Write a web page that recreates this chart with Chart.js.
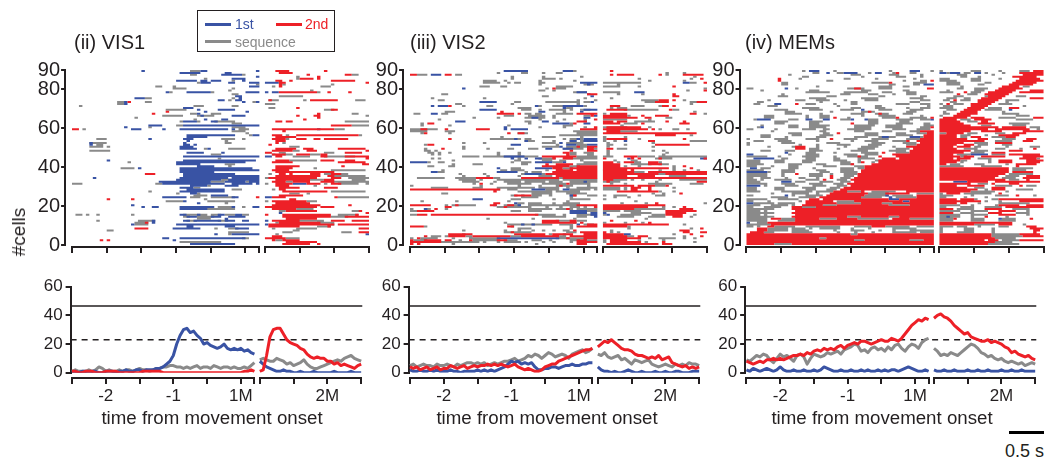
<!DOCTYPE html>
<html>
<head>
<meta charset="utf-8">
<script src="https://cdn.jsdelivr.net/npm/chart.js@4.4.0/dist/chart.umd.min.js"></script>
<style>
body { margin:0; background:#fff; font-family:"Liberation Sans", Arial, Helvetica, sans-serif; }
#wrap { position:relative; width:1047px; height:457px; overflow:hidden; background:#fff; }
canvas { position:absolute; }
.txt { position:absolute; white-space:nowrap; color:#231f20; }
.bar { position:absolute; }
</style>
</head>
<body>
<div id="wrap">
  <canvas id="r1"></canvas><canvas id="r2"></canvas><canvas id="r3"></canvas>
  <canvas id="t1"></canvas><canvas id="t2"></canvas><canvas id="t3"></canvas>

  <div class="txt" style="left:74px;top:30px;font-size:20px;line-height:24px">(ii) VIS1</div>
  <div class="txt" style="left:410px;top:30px;font-size:20px;line-height:24px">(iii) VIS2</div>
  <div class="txt" style="left:745px;top:30px;font-size:20px;line-height:24px">(iv) MEMs</div>

  <!-- legend -->
  <div class="bar" style="left:197px;top:10px;width:136px;height:40px;border:1px solid #231f20"></div>
  <div class="bar" style="left:205px;top:22.5px;width:26px;height:3px;background:#3953a4"></div>
  <div class="txt" style="left:235px;top:16px;font-size:14px;line-height:16px;color:#3953a4">1st</div>
  <div class="bar" style="left:276px;top:22.5px;width:26px;height:3px;background:#ed2027"></div>
  <div class="txt" style="left:305px;top:16px;font-size:14px;line-height:16px;color:#ed2027">2nd</div>
  <div class="bar" style="left:205px;top:40px;width:26px;height:3px;background:#8a8a8a"></div>
  <div class="txt" style="left:235px;top:33.5px;font-size:14px;line-height:16px;color:#8a8a8a">sequence</div>

  <div class="txt" style="left:19px;top:232px;font-size:19px;line-height:22px;transform:translate(-50%,-50%) rotate(-90deg)">#cells</div>

  <div class="txt" style="left:212px;top:406px;font-size:18.7px;line-height:24px;transform:translateX(-50%)">time from movement onset</div>
  <div class="txt" style="left:547px;top:406px;font-size:18.7px;line-height:24px;transform:translateX(-50%)">time from movement onset</div>
  <div class="txt" style="left:882px;top:406px;font-size:18.7px;line-height:24px;transform:translateX(-50%)">time from movement onset</div>

  <div class="bar" style="left:1009px;top:430.5px;width:35px;height:3px;background:#000"></div>
  <div class="txt" style="left:1005px;top:440px;font-size:18px;line-height:22px">0.5 s</div>
</div>

<script>
// raster rows, top row (cell 90) first. token = colour + bin range.
// bins before '|' : 0.05 s from -2.5 s (1M = 0); after '|' : 0.05 s from the 2nd block start
var vis1Rows = [
"b20 g34-36 b37-38 b53|r3-6 r17",
"b31-36 b44-45|r4-7",
"g34-35 b43-48 g49|r12 r23-24 g25-26",
"b53|g9 r15",
"g38 b46-49|g9 r10-13 r15",
"b30-35 b37-38 b40-42 g46 b49|r3-4 r7 r19-25",
"g36 b37-39 b45-46 b51-53|b0-3 r4-5 r29",
"g53|r4 g5 g19",
"g24-25 g29 b51-53|g2 r4 g16-18",
"g29-32 g46|",
"g45|g13",
"b27 g28 b33-39 g40 b50-53|b0 b2-3 r4-5 r6-14 g15 r18 r24",
"g46-47|",
"b47-48|g4-10",
"b18-20 g21-22 g46 b48|",
"b42-43 g45 b47-48|g1 r1 g2-3 g11 r13-20 g26-28",
"g13-14 b15 r16 g21-22 b49 g52 b53|",
"g13-14 b15|g0-2",
"g2 g35-37 g46-47|",
"b32-34|g1-2 r9",
"g27-32 b36 b42-46|g17-19 r19-20",
"r27 b38 b50|",
"r23 g34-35 b36 g40-42|r15 g25-26",
"g26-31 g36-40 b37 b46-49|r9 r14-15 g29",
"g18|r15",
"g35 b38 b43-44|r11",
"g31 b32-35 g36 b40-41 g41-43 g44-46|r3-4 r6-7 g23-29",
"g46-48|",
"b22-25 g30-31 b32-53|r19-24 g25-29",
"b15 g22 g46-49|",
"r0-1 g3 b17-19 b26 b31-44 b46 g48-50|r2-16 b15 r17-19 g20-22",
"g46-49|r5",
"g50|",
"b33-41 b42-46 g51 b52-53|r2-4 g6 r9-17 r17-26 g27",
"b33-36 b37-38|r3-8 b5-6",
"g7-9 b22 b32-34 g43-46 g49|r2 r3-5 g6 r9-11 r14-15 r17-22 r23",
"b33 g44|r3-5",
"g5-9 b5 b32 g44-45|r3 g5",
"b5 g7-8 b32-33 b35|r1",
"g5-8 g10 b31-34|g7-9",
"b31-35 g38 b39 g45-46 g47-49|r3-8 r11-13 r21-28",
"g5-9 g10|r2-7 g8-9 r12-14 r29",
"b33-37 b43|r0-1 g4-5 g17-19 r23-27",
"g40-42|g2 r2-4 r5 g5-7 r9-12 g13-15 r16-17",
"b32-53|b0-1 r3-4 g8-12 r16-17 g17-25 r23-29",
"g42|r29",
"b10 b32-39 b40-52|r3-6 g7-14 r16-19 r23-25",
"g16 b30-33 b34-49|r2-7 r21-28",
"b30-36 g44-46|r28-29",
"b36-40 g45|r3-9 r22",
"g14-17 b19 b31-51 g38|r3-7 g14",
"b31-35 b36-53|r2 r3-6 g19-28",
"b31-40|r3-19",
"r21-23 b32-46|g1 r4-5 r7 r13-15 g17-19 r19-21 g21-23",
"b32-53|r3-15 r18-19 g19-28",
"b6 b31-41 g41 b42-44 b46-53|g0-1 r1-3 r3-14 r19-21 g24-29",
"b30-42 g43-45 b45-53|r3-12 g13-16 r17-19 g25-28",
"b25-32 b33-39 g40-43 b44-49 g50 b51-53|r2-5 g6-7 r8-12 r16-19 g19-29",
"g0-2 g24-25 b26-43 b46-51 b53|g0 r3-7 b8-11 r12-15 g17 r19-21 g21-26 g29",
"b34-38 g39 b44-47|r3-6 g14",
"b31-34 g35-36|r4-9 r17-19 r20",
"b33-42 b43 g46-48|g2 r4-5",
"g22 b31-34 b35-40 b40-43|r5-17 g19-28",
"g30 b34-35 g36|g7-9 g12",
"g35-38 b40-44|r4-10",
"b26-32 g34-36 g40-42 g43-46 b46-47 r53|b0-1 r2-5 r20 g21-29",
"r10 r17 g38|r7-8",
"g27-31 b32 g39-46|g0 r2-11 g12-14",
"b36 g44|r3-12",
"b17|r2-15 r24",
"b20 b23-24 b31-39 b40 g42-46 b46 g49 b52-53|r0-14 r16-19",
"b31-38 g38-46|r2-8 g9-13",
"|g4-5 r6-14 g25-27 r27",
"|b4 r29",
"g1-2 g4 g7 g17 b31-32 g32-36 b36 g37-38 g40-42 b42-43 g44-46 b47-48 g49-50|r0 r5-18 g21-26 r26",
"g32-33 b33-35 g36-40 b40-42 b45-49|r5-18 g19-23 r23-29",
"g36-39 b44|r6-14",
"g7 g19-23 b23 b32-33 g33-35 b35-42 g42-44 b44-46 b49-50|b0 r2-9 g9-16 r19-22 r25-29",
"g18-21 r21 b23|g3 r4-15 g15-19",
"b17 g18-21 b30-53|b0 r1-9 r10-19 g19 r21-29",
"b33-34 b44-46|r1-9 g15-18 r18",
"r18-21 b29-36 g41 g45-47 b47-50|g2 g9-14 r27-29",
"g10-11|g8-9",
"g45-50|g5-7 g22-24 r27-29",
"b41 g45 b46-53|g3 b29",
"|r2-4",
"b26 b27 b31-49 g49-50|r0-5 g6-9",
"r8 r10 b29|r2 g3-4 r5-9",
"g31-33 g34-42|r6-14",
"b34-46|r5-12 r15"
];

var vis2Rows = [
"b27-32 b33 b44-46 g47|r2",
"g25 g32-33 g38 g42-43|g18 g23",
"r0-1 g2-4 b6-7 b8 r10-11 g13-14|r2 r4-7 r8 r16 g18 r23-28",
"g29 g38 g49|g26",
"g29 g38-41 g43|g10 g25 r28",
"g21-24 g27 g37 g47|g13 g23",
"g21-25 g28 g30-31 g37-38 b49-53|g0-10 b23-24 g25-26 r29",
"g37 g50-52 b51|g4",
"g20-22 g26-27 g42-46|g0-4 g10 r20",
"b15 g39 r41 g42-44|g29",
"g37-38 g41|r29 g24",
"g47-50 b48-50|g0-4 b9-10 b11",
"g9-10 r51 b51 r52-53|g4 g11 r20",
"g38-39 b52|r20-21",
"g6 g21 g50|g2",
"g8-9 g48 g53|g11-15 r16-18 r20 g23",
"b20-24 g30-31 g39-43 g44-48 g50-51 b52|g12-14 r15-18 g25-29 r27-29",
"g13-14 g29 g48|g25",
"b6 b8-10 r11 g15 g22-23 g36-37 b36 g41-44 b44-49 g50|r2-4 g8-11 g16 r17-18 r20",
"g31-34 b44 g45-46|g2 g4-6",
"b20-24 g32-34 g37 g40-44 g46 g49-51 b50-53|r1-6 g6-15 r19 g20-21",
"g10-12 r26 b37-38 g44 b49|g26",
"g1-2 b6-7 g9-10 r25-29 r31 g33-34 g36-37 g42-46 r48 r49-53|g0 r2-6 r25-26 g29",
"g27-29 g34 g35-37 g38 g41 g50-51 r52 b53|r0-6 g7 r11 r15-16 r17-18",
"g18 g25 g33 g34-37 b35-36 g38 g41 b50-51|r0-7 r8-9 r12-13 g18-19",
"g8 g37 g44 g50 r53|g0-6 g13",
"b13-15 g33-34 b38-39 g42 r48-50 g50|r0-2 r4-6 g9-14 r18 r23",
"g3 r5-6 g34 b41-45 g46 r47 b50-51|r0-4 g6-9 r11 r22-24",
"g3 g11 g28 g44-46|g5",
"b27 g37 g44 g50 r53|g0-6 r1-10 g13",
"g0-3 r3-4 g4-7 r10 r19-22 b27 b29-33 r49-53|r0-5 r6-12 r14 g16 g20-21 g24",
"g0-4 g10-12 g47-53|r1-4 g2-8 g9",
"g3 r4 g11 r28 g31-33 r31-32 g48-53|r0-6 r7-9 r9-25 r26",
"g43-46 g47-53|r15-20 g25",
"g26 g38-41 g49|g0 g6",
"r11 b30 g23-29 g30-31 g33-34 g44 g46-49 b48 b50-53|g0 r1-6 g6 g10 r23",
"g33-35 b33 g41 g46-47 b46-47 g49-53 b50-53|g0 g3 b6 r13-14 g25-29",
"g15 g21 g38-41 b43 g45-49|g1 g14",
"g4 r5-6 b29-31 g42 b45-47 g48-50 b51-53|g1-2 g6 r15-24",
"g15 g38-42 b43 g45-50 r48 r51-53|g1 g14",
"g4 r9 g15 g22 g28-29 g34-36 b39-40 g44-49 b44-46 r51-52 g53|r1-2 g4-6",
"g4-5 g7 r46 r51-53|g1 g14 g17",
"g5-6 g8 g11 g25 g31 r44-45 g46-47 g50-52|g1 g18",
"g6 g8 g25 g31 r45 g46-47 g51-52|g1 g17",
"g15-19 g21-34 b27-32 g34-36 r38-44 r45-47 g48-53|g0-2 r6-9 g10-14 g16-29",
"g6 g8 b29 g31 b33 b36-37 g37-40 g41 r41 r44-46 g45-47 g48-53|r0 b7 r8 r10 g15-19 r16 b28-29 r29",
"g12 g30-31 g38-40 g43-44 g49|g3 g8-9",
"b0-4 g5 g8-9 g29 g32-34 b36-40 g41-43 b44 g50-53|r0-2 g4 r6-8 g9-10 r13-15 g16",
"g12 g18-20 g32-33 r39 r42-46 g48-50 g51-53|r0-4 g8-13 r13-16 g16-18",
"g5-6 g11-12 r38-42 r42-45 g46-48 r48-53|r0-4 g6 g10 g20 r23",
"b25 g29 g30-31 b36-40 r41 r42-43 g44-46 r46-53|r0-18 g20 r25",
"g9 g26-27 g29-32 g39 r42-46 r48-53|g0 r0-6 r8 g16 g20 g23 g27",
"b6-7 g8-9 b25-30 g33 g35-37 r41-46 r47-53|r0-8 g8-11 r13-18 r18-29 g25",
"g14 g21 g32-34 g38 b33-37 g40 r39-53|r0-7 r7-15 g15-18 r18-29",
"g15 g22 g31 g37-40 g45 r42-53|r0-6 r10-14 g19-23",
"g2-8 g9 g13-15 g16-19 r19-23 g24-25 r32-42 g43-44 r44-53|r0-16 g16 r17-29",
"g14-18 g20 g25-31 g32-37 g38-42 g44-50 g50-53|r0-2 g2-6 g8 g11 g16 g22-29",
"g15-19 g24 g27-31 g33-38 g40-43 g46-50 b50 g51-53|g0-4 r1 g15 r27-29",
"g18 r20 g23 g28-34 g38-44 r45 g46-50 g51|g2 g6 g13-19 g25-28",
"g0 g20 g31 g37 g42-46 r43 g51|r0-3 r4-8 r10-14 g15-17 r18",
"g6-10 g18-20 g25-30 g31-35 g37-42 g45 g48-53|g0-4 g6 r8-10 r13 g20",
"r0-1 r2-24 g25 r25 g28-30 b35-38 g39-42 b44-45 g46-50 g51 g53|g0-4 g6 r8-9 r13",
"r24 g31-36 g37-40 g42-47 g48|r4-15 g16 g20",
"g9-10 g35-40 g45-50|g14 g17 r22",
"g29-30 r30-31 r32-34 g32 g35-37 g40 g46-47 b46 r47 g51-53|g0 g3-6 g10 g15-17",
"g32-36 g46|g3 g7",
"b18-20 g29-31 g41 g46-51|g0",
"g3 g13 g28 g45|g9",
"r24-25 g31-32 b30 g34-37 g41 g44-48|g5 g12 r15 g29",
"r0-5 g10 g12-16 r13 g17-18 r23-24 b24 r28-29 g27-31 b31 g34-39 g38-43 g43-48 r48-53|r0-12 r12-17",
"r10 r11 g25-29 r27 g29-34 g39 g43 g46-48 g50 r53|r0-6 r6-10 r10-12 g17 g20 r23",
"g0 b4 g4-5 r7 g10 g34-40 g42-46 r45 g48-53|r0-8 g8-17 r22-25",
"g0-2 r2-5 r6 g29-31 g34-37 b46-50 g50-53|g0-4 g6-10 r18-20 r21-26",
"b46-50 b52-53|b0 g8-13 r18-23",
"g0-1 r2-4 r6-36 g36-40 g41 g44 g48-52 b52-53|g0 b1 g5-10 g14-17 r18-22 g26",
"g38-40 g41-44 g48-50 b53|g4-8 g13-17 r20-22 g25",
"g22 g35 g47|g12",
"r38-42 g42-46 r46-47 g48-50|r2 r9",
"g27 r38-47 g47 r49|g0 g6 g11 r13",
"g28-31 g31-38 b32 b35 g38-40 g43-46 b48 g50-52 r51-53|r0-6 r6-17 r18 g23",
"r0-1 r2-3 g4 r28-29 g29 g46 r48-51 r52-53|r0-6 g7",
"g31-34 g46|g7 g25 r28",
"g15 g27 g31 g35 g38 g41 g44 g45 r47|g2 r22-24",
"g27-31 g32-34 r29 g45-47 r49-53|r0 g2 g4 r23-24 r28-29",
"r11-12 g15 r13-17 r30-33 r34-38 g40 r41-46 g44 r50-53|r0-4 r5 b6-7 g20 r25",
"r4 g6-8 g10 r11-15 g16-17 r18-28 g29-31 r32-42 g43-44 r46-53|r0-6 g6-8 r10-12 g23 r28",
"g0 r2 g3-7 g12 g17-25 b25-42 g42-46 r45 g46-50 r50-53|r0-6 r6-10 g13 g16-20 g23 g26",
"r0 g1-4 r4-8 r10 r11 g14 r17 g18-25 r25-27 g27-30 g35-37 g40 g46-48 r48-50 g51-53|g0 r2-6 g10 g17",
"r0-1 r2-8 g8-19 g21 g25 g27-31 g33 g38 g41 g46 r48-53|g0 r2-10 g12 r17 g26",
"r0 r2 g12 g36 r48-50|r1-9 r10-15 r17-19"
];

var memRows = [
"g16 b18-20 g25 g41 b47-49 g53|g0 g9-11 g17 g23-25 r27-29",
"g19-20 b23 g26-27 b28-31 g35 b37-38 g42 r43 g47-48|b0-1 g2 b3-5 g7-8 b10-11 g13 g18 r23-29",
"g12 g30-32 g41-43 g50|g5-7 g15 r24-29",
"g16-17 g33 g43-45 g50|g6-7 g11 r21-27",
"r9 g15 g28-29 g37 g48|g0-2 g9-11 g17 r23-28",
"r9 g23-24 g45 g50-51 r53|g0-4 g9-11 r22-29",
"g10-11 g36-40 r41 g48-51|g2-5 g13-14 r21-27",
"g10-11 g41-42 g48-49 b51-53|g2-5 g11-12 r20-26",
"g20 g38-41 g45-46|g6 r18-22 g24-25",
"g0-1 b11 g14 g29-33 r31-32 g38-41 r52-53|g5-6 g10-13 r17-23",
"g4 g18-20 g33-35 g45-46|g2 g10-12 r16-21 r26-29",
"g17-23 g28-34 g39-41 g46-48|g0-3 r7 g9-11 r14-20 r23-29",
"g10 g27-29 g35-37 g42 g46-48|r5 g8-10 r13-19",
"g9-11 g23-25 g38-39 g50-51|g4-6 g13 r14-18 g22-24",
"g18-22 g33-37 g47-50|g2-4 g7-8 r12-17 r26-29",
"g6 g14-16 g20-23 g28 g34-37 g50-52|g1-2 r4 g6-8 r11-16 g19-22",
"g3-4 g21 g30-31 g47-49|g3-4 r11-15 g19",
"g2-3 b8-9 r14 g17-19 g25 g30-31 g43-46 g50-52|g0 r2 g4-6 r9-14 g17-20",
"g6-8 g26 g37-38 g52|g1-3 r9-13 g24",
"g16-20 g30-32 g37-39 g46 g50-52|g0-3 r8-12 g14-17 r20-22",
"g8-11 g18-21 g27-30 b33 g38-41 g47-50|g2-4 r7-11 g13-17 b20",
"g11-13 g24 g33-36 r35 g46-48|g1 r6-10 g18",
"g11-15 g21 g30-33 g37-40 r38 g45-47|g1-2 r5-10 g18-22",
"g5-7 g17 g21-23 g33 g38-42 g50|g0 r4-8 g22-25",
"g5-7 g17 g21-23 r25 g29 g39-42 r43 g47-51 r53|r1-7 r9-12 g17-21 r27-29",
"g2 b3-6 g12-14 b17-18 b22-23 g27-29 b30 b34 g35-37 g43-47 g50-52 b53|r0-4 g6-8 r10-14 g22-26",
"g8-11 g18-21 g35-37 g44-46|r0-5 g8-10 r12-13",
"g8-10 g18-20 r30 g35-37 g43-47 g51-52|r0-6 r11-15 g20-25",
"g4 g12-14 g18-23 g31-36 g40-44 g51-53|r0-8 g12-14 g21-24",
"g3 b4 g12-14 g18-22 g31-35 g40-44 g50-52 r53|r0-16 r18-24 g26-28",
"g0-1 g8 g16-19 g22-23 g29-35 g42-45 g49-52|r0-13 r16-25 g28",
"g7 g21-22 g31-33 g39-41 g47-49 r50-53|r0-8 r12-17 r24-29",
"g12-15 g22-23 r26 g34-37 g43-45 g49-51 r52-53|g0-1 r2-6 g8-10 g16-18 r21-24",
"g4-6 g13-15 g21-24 g34-37 g43-47 r51-53|r0-4 g6-8 g13 r17-22",
"g4-6 g11 g20-22 g31-34 g38-42 b39-40 b47-49 g50 r51-53|r0-4 g6-7 r9-11 g15-18 r19-21",
"g0 g8-11 g17-20 r24 g28-31 g36-40 g46-49 r50-53|r0-7 r11-13 g18-21 r25-27",
"g2-4 g9-12 g20 g30 g34-37 g42-45 r46 r49-53|r0-12 g16-20 r24-26",
"g0 g10-13 g23-26 g36-39 g45-48 r50-53|r0-6 g10-13 r16-20",
"g0 g15 g20 g26-29 g35-38 g46-48 r49-53|r0-4 r7-9 g11-13 g18-20",
"g6 g13-15 r14-16 g20 g28 g33-37 g42 r46-48 r49-53|r0-3 r5-8 g10-11 g19 g26-28",
"r14-16 g18-20 g26 g32-36 g43-46 r48-53|r0-4 g7-10 g16-18 g23 r27",
"g4-6 g11-13 g18-21 g30-34 g41-45 r47-53|r0-8 g10-13 r20-23",
"b11 g17-19 g25 g33-37 r39 g43-46 r47-53|r0-6 g9-12 r15-18",
"b0-1 g12 g17-20 g28-31 g34-37 r42-53|r0-3 g5-8 b9-11 b12-13 g15-18 r20-28",
"g0-5 g9 g16-20 g25 g29-34 r32 r38 r43-53|r0-5 g6-7 r7-9 r12-18 r24-29",
"b2-7 g10-11 g17-19 g25-26 g32-36 r39-42 r44-53|r0-3 r5-8 g11-14 r23-27 g28",
"g0-3 g8-10 g16-19 g25-28 g32 g37-38 r38-53|r0-5 g6-7 g14 r17-20 r25-29",
"g0-3 g8-10 g16-18 g27-29 g32 r33 g36 r38-53|r0-4 g6 g14 r17-20 r25-28",
"g0-4 g12-15 g20-22 g27-30 r30 r36-53|r0-1 g3-5 g10-12 g19 r22-27",
"g0-2 g7 g12-14 g22-25 g31-33 r34-53|g0-6 g12-17 r22",
"b1-2 g4-6 g12-14 g19 g27-30 g32-33 r34-53|r0-19 g21-26",
"g0-4 g10-13 g20-22 g27-30 r33-53|r0-19 g21-24",
"b0-5 g6 g10-13 g21-23 g27-31 r33-53|r0-19 r21-26",
"g0-5 g10 r14 g18-21 g24 g28-31 r32-53|r0-18 g20-26",
"g0-5 g10 g18-21 r24 g28-30 r32-53|r0-16 g19-22 r25-28",
"g0-1 g4-6 g11 g15-16 g20 r24 g27-29 r31-53|r0-15 g18-21 r24-28",
"g0-2 g4 g8-12 g17-20 r22 g26-28 r30-53|r0-18 g20-22 r25",
"g0-3 b10-12 g14-16 g21-24 g27-29 r31-53|b4-7 r8-13 r16-28",
"g0-5 g10-13 g18-21 g25-27 r29-53|r0-8 g11-13 r15 r20-22",
"b0-3 g5 g11-14 g19-22 g26-28 r30-53|r0-4 r8-12 g16-20 r23 g25-27",
"g0-2 g8-10 g16-19 g24-26 r28-53|r0-7 g10-12 r15-18",
"g0-2 g8-10 g17-19 g23-25 r27-53|r0-10 g13 r15-18 g22-26",
"g0-3 g10-13 g14-18 g20-24 r25-28 g28-32 r33 g36-42 r46-53|r0-8 g9-15 g19",
"g7 g13-17 g20 r24-34 g35-40 r40-46 g49-53|g0 r2-5 g7-14 r17",
"g0-1 b11 g13 g17-21 r23-33 g34-40 b40 g42-47 r49-53|g0-3 g9 g16-19 r22 g27",
"g7-11 g15-19 r21-32 g33-38 b41 g43-48 r49-53|g0-1 g7 g13",
"g0-5 g9-14 r18-20 r22-40 b41-43 r44-53|r0-4 r6-9 g10 g15-16 r17-29",
"g0-1 g6 g15 r17-24 g26-30 r31-44 b45-46 r47-53|r0-7 r8-11 g13 g17 r23-29",
"b0-1 g2-7 g9-13 r17-25 g26-32 r33-38 g39-41 r42-53|r0-4 r6-7 g11 g17-25",
"g0-3 g7-11 g13 r16-21 g22-25 r26-40 g41-46 r47-53|g0-5 g9 g16 r17-22 r25-29",
"g0-1 g5-9 r13-15 g16-19 r20-53|g0-1 g6-9 g13-17 r19-29",
"g0-7 r13-53|r0-3 g5-9 r13-17 g21-25",
"g0-3 g5 r14-53|g0-5 g9-13 r17-21 g25",
"g0-7 r13-53|r0-3 g6-9 r14-17 g22-25",
"g0-3 g5 r14-53|g0-5 g9-13 r17-21 g25",
"g0-7 r13-16 r17-28 g29-32 r33-40 g41-43 r44-53|g0-5 b2 g9 r13 g19",
"g0-5 r7-9 g10-13 r14-20 g21-25 r26-31 g32-40 r42-46 g47-53|g0-3 r4 g9-12 b17 g18-21 r26",
"g0-5 g9-13 r14-53|g0-3 g9-12 g17-21",
"b0 g3-5 r6-53|r0-20",
"g0-3 g4-6 r7-9 r10-53|r0-9 g10-15 r17-20 g24",
"g0-1 g3 r6-7 g8-13 g17-26 g31-35 r36-39 g40-46 g49-53|g0-3 g5-7 g11 g17-19 r25-27",
"r3-5 g6-11 g13-16 g18 g21-26 g30 g35 g42-48|g0 g7-9 g15 r26-29",
"r3-5 g6-11 g13-17 g25 g30-33 g38 g42 g47-53|g0 g7-9 g15 r27-28",
"r1-4 g5-7 g13-18 g26 g31 g36 g42-48 g50-53|g0 g5-9 g15 r27",
"r0-29 g30-31 r32-53|r0-14 g15-22 r23-28",
"r0-53|r0-14 g15-23 r24-29",
"r0-20 g21-22 r23-53|r0-15 g16-21",
"r0-30 g31-33 r34-46 g47-50 r51-53|r0-12 r14-16 g18-22 r23-29",
"r0-53|r0-15 g16-20",
"r0-7 g8-12 r13-53|r0-13 g14-22"
];

// population counts: 55 values before the break (every 0.05 s from -2.5 s), then 31 after it
var vis1Blue = [0,1,0,1,1,0,1,1,0,0,1,1,1,0,1,1,2,1,1,2,2,1,2,2,2,3,3,4,6,8,12,20,26,30,31,28,29,26,24,20,21,19,18,17,18,20,17,16,17,16,17,15,16,14,13,
  8,6,4,3,2,1,1,2,1,1,0,0,1,0,0,0,1,0,0,0,0,0,1,0,0,0,0,1,0,0,0];
var vis1Gray = [1,2,1,1,1,2,1,2,4,3,1,2,1,1,2,1,2,2,1,2,3,2,2,1,2,3,3,4,4,5,5,4,4,3,4,3,4,5,3,4,4,3,5,4,3,4,4,3,4,3,3,4,3,5,7,
  9,10,9,8,8,10,9,8,6,7,5,6,7,9,6,4,3,3,4,5,6,7,8,9,8,10,11,12,10,9,8];
var vis1Red = [1,1,0,0,1,1,1,0,0,0,1,1,1,1,0,0,0,0,0,0,0,1,1,1,1,1,1,0,0,0,0,0,0,0,0,0,0,0,0,0,0,0,0,0,0,0,0,0,0,0,0,1,1,2,1,
  1,2,12,25,30,31,31,27,23,21,20,19,17,16,13,11,10,11,10,10,8,8,6,7,5,6,5,4,3,5,6];

var vis2Blue = [2,1,1,2,1,1,2,1,2,1,1,1,2,1,1,0,1,1,1,1,2,1,2,1,2,1,2,3,4,6,8,7,8,6,7,6,7,4,2,2,3,3,4,4,3,4,5,5,6,5,5,6,6,7,7,
  4,2,1,1,0,1,0,0,1,2,1,0,0,1,0,0,0,1,0,0,1,0,0,1,1,0,0,0,1,1,1];
var vis2Gray = [5,6,4,5,6,5,5,4,6,5,5,6,5,4,6,5,6,7,7,6,7,6,7,5,6,7,6,7,8,8,9,10,8,9,10,12,11,13,12,10,12,14,13,11,12,13,12,10,13,14,15,16,14,15,17,
  13,12,14,11,10,11,12,9,10,8,6,9,8,7,8,9,6,5,4,5,6,5,4,6,5,6,5,7,6,6,5];
var vis2Red = [4,3,4,2,3,4,2,3,4,2,3,3,5,4,3,4,5,3,4,5,4,5,5,6,5,6,5,6,5,4,5,6,4,3,2,3,2,1,1,2,4,5,6,6,8,9,10,11,12,13,14,15,16,16,17,
  18,20,22,21,23,21,19,17,16,16,15,13,12,12,11,10,11,10,12,9,10,11,7,6,5,4,5,3,4,3,4];

var memBlue = [2,1,3,2,1,2,3,2,1,2,4,2,1,1,2,1,1,2,1,1,2,1,2,4,3,2,1,1,2,1,1,2,1,1,2,1,2,1,1,2,1,2,1,2,2,1,2,3,4,3,2,1,1,2,1,
  2,1,1,2,1,1,2,1,1,1,2,1,1,2,1,1,2,1,1,1,2,1,1,2,1,1,2,1,1,1,1];
var memGray = [9,8,10,12,11,13,12,9,7,10,13,11,12,10,8,12,13,11,6,10,13,12,11,12,14,13,14,15,13,16,17,18,20,19,15,16,14,17,18,16,17,15,18,16,19,20,17,15,18,20,19,17,21,23,24,
  17,15,12,13,12,14,13,12,14,16,18,20,19,17,14,13,11,12,10,9,10,8,7,8,7,6,7,5,6,7,6];
var memRed = [8,7,6,7,8,7,9,9,10,9,10,9,10,11,12,12,13,12,14,13,15,16,15,17,16,17,16,18,19,17,19,20,21,20,22,22,21,20,21,22,23,22,22,24,23,22,24,27,30,33,35,37,36,38,37,
  38,40,41,39,38,36,33,31,29,27,28,25,24,23,22,22,23,21,22,21,20,18,17,14,15,13,12,11,12,10,9];

var threshSolid = 46.5;
var threshDash = 23;

var xTickVals = [-2.5, -2, -1.5, -1, -0.5, 0, 0.2, 0.28, 0.78, 1.28, 1.78];
var xTickText = {'-2': '-2', '-1': '-1', '0': '1M', '1.28': '2M'};
var axisParts = [[-2.5, -2, -1.5, -1, -0.5, 0, 0.2], [0.28, 0.78, 1.28, 1.78]];
var rasterYTicks = [0, 20, 40, 60, 80, 90];
var traceYTicks = [0, 10, 20, 30, 40, 50, 60];

var BLUE = '#3953a4', RED = '#ed2027', GRAY = '#8a8a8a', INK = '#231f20';
var PXS = 69.4;
var panelX0 = [72, 410, 746.5];

Chart.defaults.font.family = '"Liberation Sans", Arial, Helvetica, sans-serif';
Chart.defaults.color = INK;

var tA = [], tB = [];
for (var i = 0; i <= 54; i++) tA.push(+(-2.5 + 0.05 * i).toFixed(2));
for (var i = 0; i <= 30; i++) tB.push(+(0.28 + 0.05 * i).toFixed(2));

// x axis with a break, drawn from the chart's own x scale
var brokenAxis = {
  id: 'brokenAxis',
  afterDraw: function(chart, args, o) {
    var ctx = chart.ctx, xs = chart.scales.x;
    var y0 = Math.round(chart.chartArea.bottom + o.gap);
    ctx.save();
    ctx.strokeStyle = INK; ctx.lineWidth = 2;
    o.parts.forEach(function(p) {
      var a = xs.getPixelForValue(p[0]), b = xs.getPixelForValue(p[p.length - 1]);
      ctx.beginPath(); ctx.moveTo(Math.round(a) - 1, y0); ctx.lineTo(Math.round(b) + 1, y0); ctx.stroke();
      p.forEach(function(v) {
        var x = Math.round(xs.getPixelForValue(v));
        ctx.beginPath(); ctx.moveTo(x, y0 - 1); ctx.lineTo(x, y0 + 6); ctx.stroke();
      });
    });
    ctx.restore();
  }
};

function parseRows(rows) {
  var out = {r: [], b: [], g: []};
  rows.forEach(function(row, k) {
    var y = 89 - k + 0.5;
    row.split('|').forEach(function(h, s) {
      var base = s == 0 ? -2.5 : 0.28;
      h.trim().split(/\s+/).forEach(function(tok) {
        if (!tok) return;
        var p = tok.slice(1).split('-');
        var a = +p[0], e = p.length > 1 ? +p[1] : a;
        var x0 = base + a * 0.05, x1 = base + (e + 1) * 0.05;
        out[tok[0]].push({x: x0, y: y}, {x: x1, y: y}, {x: x1, y: null});
      });
    });
  });
  return out;
}

function place(cv, x0, xmin, top, chartTop, chartBottom, xh) {
  var L = x0 + (xmin + 2.5) * PXS;
  var R = x0 + (1.8 + 2.5) * PXS;
  var cl = Math.floor(L) - 46;
  var cw = Math.ceil(R - cl) + 4;
  var ch = Math.ceil(chartBottom - top + xh);
  cv.width = cw; cv.height = ch;
  cv.style.left = cl + 'px'; cv.style.top = top + 'px';
  return {
    yw: L - cl, xh: xh,
    pad: {left: 0, top: chartTop - top, right: cw - (R - cl), bottom: ch - (chartBottom - top) - xh}
  };
}

function yGrid(len) {
  return {display: true, drawOnChartArea: false, drawTicks: true, tickLength: len, color: INK, lineWidth: 2};
}

function segLine(pts, col) {
  return {data: pts, borderColor: col, borderWidth: 2, pointRadius: 0, fill: false, tension: 0,
          spanGaps: false, borderCapStyle: 'butt'};
}

function rasterChart(id, x0, rows) {
  var cv = document.getElementById(id);
  var g = place(cv, x0, -2.6, 50, 70, 245, 14);
  var s = parseRows(rows);
  new Chart(cv, {
    type: 'line',
    data: {datasets: [segLine(s.r, RED), segLine(s.b, BLUE), segLine(s.g, GRAY)]},
    options: {
      responsive: false, animation: false, devicePixelRatio: 1, events: [],
      layout: {padding: g.pad},
      plugins: {legend: {display: false}, tooltip: {enabled: false},
                brokenAxis: {gap: 2, parts: axisParts}},
      scales: {
        x: {type: 'linear', min: -2.6, max: 1.8,
            afterFit: function(sc) { sc.height = g.xh; },
            grid: {display: false, drawTicks: false}, border: {display: false}, ticks: {display: false}},
        y: {type: 'linear', min: 0, max: 90,
            afterFit: function(sc) { sc.width = g.yw; },
            afterBuildTicks: function(sc) { sc.ticks = rasterYTicks.map(function(v) { return {value: v}; }); },
            grid: yGrid(4), border: {display: true, color: INK, width: 2},
            ticks: {font: {size: 20}, padding: 1, color: INK}}
      }
    },
    plugins: [brokenAxis]
  });
}

function trace(vals, col) {
  var pts = [];
  tA.forEach(function(t, i) { pts.push({x: t, y: vals[i]}); });
  pts.push({x: 0.24, y: null});
  tB.forEach(function(t, i) { pts.push({x: t, y: vals[55 + i]}); });
  return {data: pts, borderColor: col, borderWidth: 3, pointRadius: 0, fill: false, tension: 0,
          spanGaps: false, borderJoinStyle: 'round'};
}

function refLine(v, dash) {
  return {data: [{x: -2.52, y: v}, {x: 1.8, y: v}], borderColor: INK, borderWidth: 1.6, borderDash: dash,
          pointRadius: 0, fill: false};
}

function traceChart(id, x0, blue, gray, red) {
  var cv = document.getElementById(id);
  var g = place(cv, x0, -2.52, 266, 286.7, 372.7, 45);
  new Chart(cv, {
    type: 'line',
    data: {datasets: [trace(red, RED), trace(blue, BLUE), trace(gray, GRAY),
                      refLine(threshSolid, []), refLine(threshDash, [6, 5])]},
    options: {
      responsive: false, animation: false, devicePixelRatio: 1, events: [],
      layout: {padding: g.pad},
      plugins: {legend: {display: false}, tooltip: {enabled: false},
                brokenAxis: {gap: 5, parts: axisParts}},
      scales: {
        x: {type: 'linear', min: -2.52, max: 1.8,
            afterFit: function(sc) { sc.height = g.xh; },
            afterBuildTicks: function(sc) { sc.ticks = xTickVals.map(function(v) { return {value: v}; }); },
            grid: {display: false, drawTicks: false}, border: {display: false},
            ticks: {autoSkip: false, maxRotation: 0, minRotation: 0, padding: 13.8, font: {size: 17}, color: INK,
                    callback: function(v) { return xTickText[String(v)] || ''; }}},
        y: {type: 'linear', min: 0, max: 60,
            afterFit: function(sc) { sc.width = g.yw; },
            afterBuildTicks: function(sc) { sc.ticks = traceYTicks.map(function(v) { return {value: v}; }); },
            grid: yGrid(5), border: {display: true, color: INK, width: 2},
            ticks: {font: {size: 17}, padding: 3, color: INK,
                    callback: function(v) { return v % 20 == 0 ? v : ''; }}}
      }
    },
    plugins: [brokenAxis]
  });
}

rasterChart('r1', panelX0[0], vis1Rows);
rasterChart('r2', panelX0[1], vis2Rows);
rasterChart('r3', panelX0[2], memRows);
traceChart('t1', panelX0[0], vis1Blue, vis1Gray, vis1Red);
traceChart('t2', panelX0[1], vis2Blue, vis2Gray, vis2Red);
traceChart('t3', panelX0[2], memBlue, memGray, memRed);
</script>
</body>
</html>
